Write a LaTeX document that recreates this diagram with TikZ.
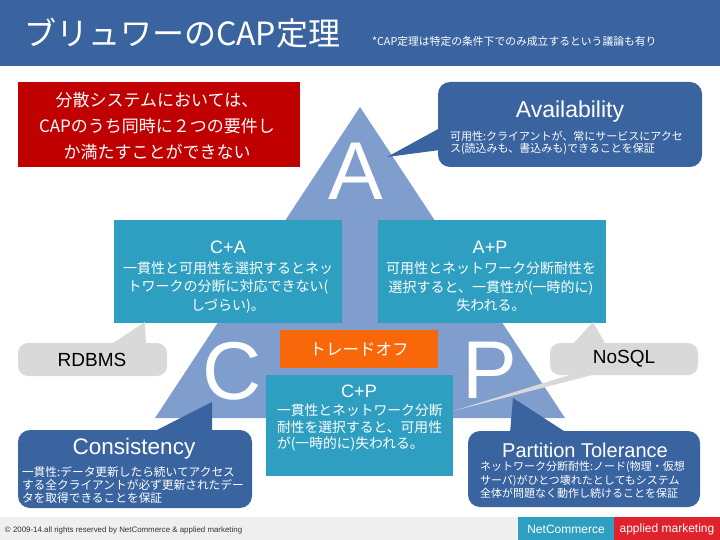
\documentclass[tikz,border=0pt]{standalone}
\usepackage{fontspec}
\setmainfont{Liberation Sans}
\newfontfamily\jp{Noto Sans CJK JP}
\definecolor{barblue}{HTML}{3A64A0}
\definecolor{redbox}{HTML}{C00000}
\definecolor{teal}{HTML}{2E9FC0}
\definecolor{orangebox}{HTML}{F8680A}
\definecolor{tri}{HTML}{7F9ECE}
\definecolor{callgray}{HTML}{D9D9D9}
\definecolor{footgray}{HTML}{EFEFEF}
\definecolor{footred}{HTML}{E0222C}
\begin{document}
\begin{tikzpicture}[x=1pt,y=-1pt,
  plain/.style={inner sep=0pt,outer sep=0pt},
  panel/.style={plain,anchor=north west},
  bubble/.style={panel,fill=barblue,rounded corners=12pt},
  graybubble/.style={panel,fill=callgray,rounded corners=10pt},
  wtext/.style={plain,text=white},
  jpdesc/.style={plain,text=white,align=left,anchor=west,font=\jp\fontsize{11.3}{13.2}\selectfont},
  jpmid/.style={plain,text=white,align=center,font=\jp\fontsize{14}{18.5}\selectfont},
  bigletter/.style={plain,text=white,anchor=base,font=\fontsize{82}{84}\selectfont},
  headline/.style={plain,text=white,font=\fontsize{18}{20}\selectfont}]
\useasboundingbox (0,0) rectangle (720,540);
% title bar
\node[panel,fill=barblue,minimum width=720pt,minimum height=66pt] (bar) at (0,0) {};
\node[wtext,anchor=west,font=\jp\fontsize{32}{34}\selectfont] (title) at (24,33) {ブリュワーのCAP定理};
\node[wtext,anchor=west,font=\jp\fontsize{10.8}{12}\selectfont] (subtitle) at (372,41) {*CAP定理は特定の条件下でのみ成立するという議論も有り};
% triangle
\coordinate (apex) at (360,107);
\coordinate (bl) at (155,418);
\coordinate (br) at (565,418);
\fill[tri] (apex) -- (br) -- (bl) -- cycle;
\node[bigletter] (letterA) at (356,200) {A};
\node[bigletter] (letterC) at (232,399) {C};
\node[bigletter] (letterP) at (490,398) {P};
% red box
\node[panel,fill=redbox,minimum width=282pt,minimum height=85pt] (redb) at (18,82) {};
\node[wtext,align=center,font=\jp\fontsize{17}{26}\selectfont] (redtext) at (157,126) {分散システムにおいては、\\CAPのうち同時に２つの要件し\\か満たすことができない};
% C+A and A+P
\node[panel,fill=teal,minimum width=228pt,minimum height=103pt] (ca) at (114,220) {};
\node[headline] (catitle) at (228,247) {C+A};
\node[jpmid] (catext) at (228,287) {一貫性と可用性を選択するとネッ\\トワークの分断に対応できない(\\しづらい)。};
\node[panel,fill=teal,minimum width=228pt,minimum height=103pt] (ap) at (378,220) {};
\node[headline] (aptitle) at (490,247) {A+P};
\node[jpmid] (aptext) at (491,287) {可用性とネットワーク分断耐性を\\選択すると、一貫性が(一時的に)\\失われる。};
% trade-off and C+P
\node[panel,fill=orangebox,minimum width=158pt,minimum height=38pt] (trade) at (280,330) {};
\node[wtext,font=\jp\fontsize{16.5}{18}\selectfont] (tradetext) at (359,349) {トレードオフ};
\node[panel,fill=teal,minimum width=187pt,minimum height=101pt] (cp) at (266,375) {};
\node[headline] (cptitle) at (359,391) {C+P};
\node[jpmid,align=left,anchor=west,font=\jp\fontsize{13.8}{16.5}\selectfont] (cptext) at (277,428) {一貫性とネットワーク分断\\耐性を選択すると、可用性\\が(一時的に)失われる。};
% Availability callout
\node[bubble,minimum width=264pt,minimum height=85pt] (avail) at (438,82) {};
\coordinate (availtip) at (387,157);
\fill[barblue] (440,128) -- (availtip) -- (440,150) -- cycle;
\node[wtext,font=\fontsize{23}{25}\selectfont] (availtitle) at (570,112) {Availability};
\node[jpdesc,font=\jp\fontsize{11}{12.5}\selectfont] (availtext) at (450,143) {可用性:クライアントが、常にサービスにアクセ\\ス(読込みも、書込みも)できることを保証};
% RDBMS callout
\node[graybubble,minimum width=149pt,minimum height=33pt] (rdbms) at (18,343) {};
\coordinate (rdbmstip) at (145,322);
\fill[callgray] (110,345) -- (rdbmstip) -- (146,345) -- cycle;
\node[plain,font=\fontsize{19}{21}\selectfont] (rdbmstext) at (92,360) {RDBMS};
% NoSQL callout
\node[graybubble,minimum width=148pt,minimum height=32pt] (nosql) at (550,343) {};
\coordinate (nosqltip) at (593,322);
\coordinate (nosqltip2) at (453,411);
\fill[callgray] (572,345) -- (nosqltip) -- (606,345) -- cycle;
\fill[callgray] (576,373) -- (nosqltip2) -- (600,373) -- cycle;
\node[plain,font=\fontsize{19}{21}\selectfont] (nosqltext) at (624,359) {NoSQL};
% Consistency callout
\node[bubble,minimum width=234pt,minimum height=78pt] (cons) at (18,430) {};
\coordinate (constip) at (212,402);
\fill[barblue] (153,432) -- (constip) -- (212,432) -- cycle;
\node[wtext,font=\fontsize{22.5}{24}\selectfont] (constitle) at (134,449) {Consistency};
\node[jpdesc,font=\jp\fontsize{11.7}{13.2}\selectfont] (constext) at (22,485) {一貫性:データ更新したら続いてアクセス\\する全クライアントが必ず更新されたデー\\タを取得できることを保証};
% Partition tolerance callout
\node[bubble,minimum width=232pt,minimum height=76pt] (part) at (468,431) {};
\coordinate (parttip) at (513,398);
\fill[barblue] (510,433) -- (parttip) -- (567,433) -- cycle;
\node[wtext,font=\fontsize{20}{22}\selectfont] (parttitle) at (585,450) {Partition Tolerance};
\node[jpdesc,font=\jp\fontsize{11}{13.2}\selectfont] (parttext) at (480,480) {ネットワーク分断耐性:ノード(物理・仮想\\サーバ)がひとつ壊れたとしてもシステム\\全体が問題なく動作し続けることを保証};
% footer
\node[panel,fill=footgray,minimum width=720pt,minimum height=23pt] (foot) at (0,517) {};
\node[plain,anchor=west,text=black!80,font=\fontsize{7.9}{9}\selectfont] (copy) at (5,530) {© 2009-14.all rights reserved by NetCommerce \& applied marketing};
\node[panel,fill=teal,minimum width=96pt,minimum height=23pt] (nc) at (518,517) {};
\node[wtext,font=\fontsize{12}{14}\selectfont] (nctext) at (566,529) {NetCommerce};
\node[panel,fill=footred,minimum width=106pt,minimum height=23pt] (am) at (614,517) {};
\node[wtext,font=\fontsize{12}{14}\selectfont] (amtext) at (667,529) {applied marketing};
\end{tikzpicture}
\end{document}
